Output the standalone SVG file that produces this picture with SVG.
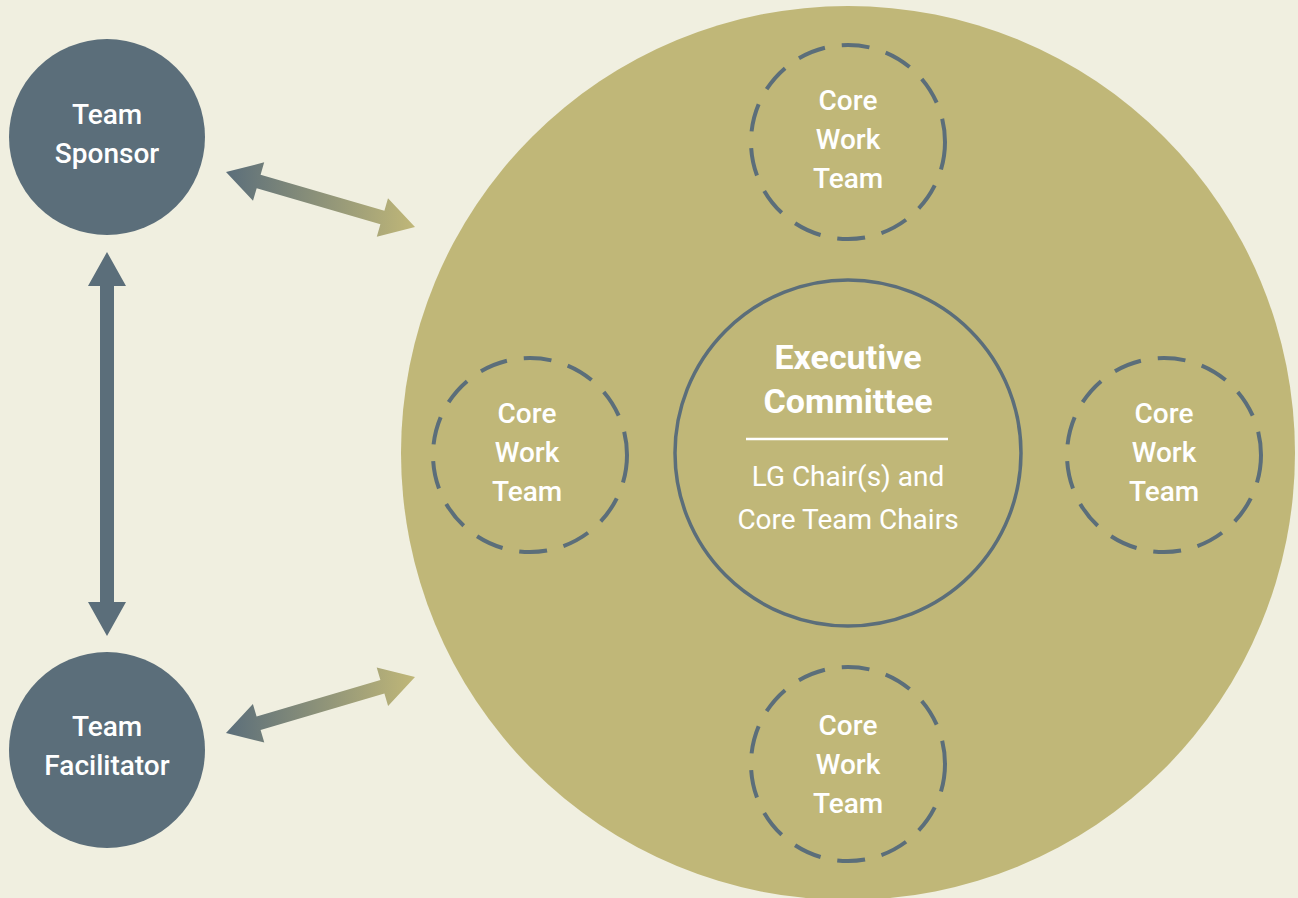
<svg xmlns="http://www.w3.org/2000/svg" width="1298" height="898" viewBox="0 0 1298 898">
<defs>
<style>
.bg{fill:#f0efe0}
.big{fill:#c0b778}
.slate{fill:#5b6e7a}
.dash{fill:none;stroke:#5b6e7a;stroke-width:4;stroke-dasharray:28 17}
.exec{fill:none;stroke:#5b6e7a;stroke-width:3.5}
.t{font-family:Roboto,"Open Sans",sans-serif;fill:#ffffff;text-anchor:middle;font-size:28px}
.m{font-weight:500}
.b{font-weight:bold;font-size:34px}
</style>
<linearGradient id="g1" x1="226" y1="0" x2="415" y2="0" gradientUnits="userSpaceOnUse">
<stop offset="0" stop-color="#5b6e7a"/>
<stop offset="1" stop-color="#c0b778"/>
</linearGradient>
</defs>
<rect class="bg" x="0" y="0" width="1298" height="898"/>
<g id="big-circle"><circle class="big" cx="848" cy="453" r="447"/></g>
<g id="connectors">
<path class="slate" d="M107 252 L126 286 L114 286 L114 602 L126 602 L107 636 L88 602 L100 602 L100 286 L88 286 Z"/>
<path fill="url(#g1)" d="M226 172 L264.2 162.3 L260.6 174.8 L384.4 210.8 L388 198.3 L415 227 L376.8 236.7 L380.4 224.2 L256.7 188.2 L253 200.7 Z"/>
<path fill="url(#g1)" d="M226 733 L252.9 704.1 L256.6 716.6 L380.4 680 L376.7 667.5 L415 677 L388.1 705.9 L384.4 693.4 L260.6 730 L264.3 742.5 Z"/>
</g>
<g id="sponsor"><circle class="slate" cx="107" cy="137" r="98"/>
<text class="t m" x="107" y="124">Team</text><text class="t m" x="107" y="163">Sponsor</text></g>
<g id="facilitator"><circle class="slate" cx="107" cy="750" r="98"/>
<text class="t m" x="107" y="736">Team</text><text class="t m" x="107" y="775">Facilitator</text></g>
<g id="exec"><circle class="exec" cx="848" cy="453" r="173"/>
<text class="t b" x="848" y="369">Executive</text><text class="t b" x="848" y="413">Committee</text>
<line x1="746" y1="439" x2="948" y2="439" stroke="#fff" stroke-width="2.5"/>
<text class="t" x="848" y="486">LG Chair(s) and</text><text class="t" x="848" y="529">Core Team Chairs</text></g>
<g id="core-top"><circle class="dash" cx="848" cy="142" r="97"/>
<text class="t m" x="848" y="110">Core</text><text class="t m" x="848" y="149">Work</text><text class="t m" x="848" y="188">Team</text></g>
<g id="core-left"><circle class="dash" cx="530" cy="455" r="97"/>
<text class="t m" x="527" y="423">Core</text><text class="t m" x="527" y="462">Work</text><text class="t m" x="527" y="501">Team</text></g>
<g id="core-right"><circle class="dash" cx="1164" cy="455" r="97"/>
<text class="t m" x="1164" y="423">Core</text><text class="t m" x="1164" y="462">Work</text><text class="t m" x="1164" y="501">Team</text></g>
<g id="core-bottom"><circle class="dash" cx="848" cy="764" r="97"/>
<text class="t m" x="848" y="735">Core</text><text class="t m" x="848" y="774">Work</text><text class="t m" x="848" y="813">Team</text></g>
</svg>
